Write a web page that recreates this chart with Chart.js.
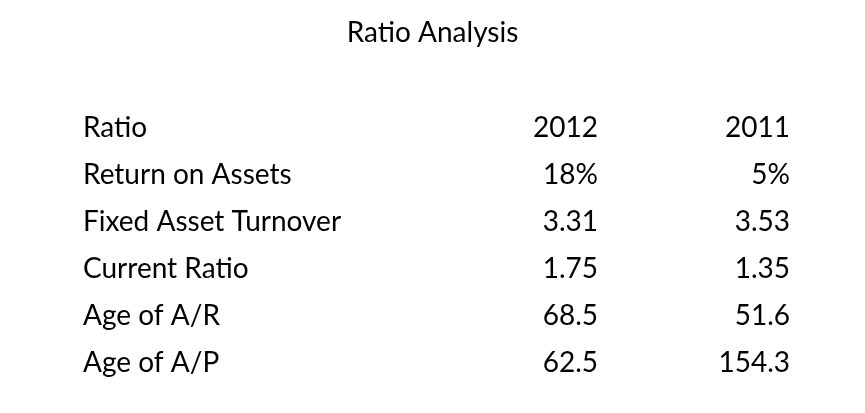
<!DOCTYPE html>
<html><head><meta charset="utf-8">
<script src="https://cdn.jsdelivr.net/npm/chart.js@4"></script>
<style>html,body{margin:0;padding:0;background:#fff}#w{width:865px;height:413px}</style>
</head><body><div id="w"><canvas id="c"></canvas></div>
<script>
const headers = ['Ratio', '2012', '2011'];
const ratios = ['Return on Assets', 'Fixed Asset Turnover', 'Current Ratio', 'Age of A/R', 'Age of A/P'];
const values2012 = ['18%', '3.31', '1.75', '68.5', '62.5'];
const values2011 = ['5%', '3.53', '1.35', '51.6', '154.3'];

const colX = [83, 598, 790];
const colAlign = ['left', 'right', 'right'];
const rows = [headers].concat(ratios.map((r, i) => [r, values2012[i], values2011[i]]));

const points = [];
rows.forEach((row, ri) => row.forEach((t, ci) => points.push({x: colX[ci], y: ri, t, a: colAlign[ci]})));

const textPlugin = {
  id: 'cellText',
  afterDatasetsDraw(chart) {
    const ctx = chart.ctx, xs = chart.scales.x, ys = chart.scales.y;
    ctx.save();
    ctx.fillStyle = '#000';
    ctx.font = '28px Lato';
    ctx.textBaseline = 'middle';
    chart.data.datasets[0].data.forEach(p => {
      ctx.textAlign = p.a;
      ctx.fillText(p.t, xs.getPixelForValue(p.x), ys.getPixelForValue(p.y));
    });
    ctx.restore();
  }
};

new Chart(document.getElementById('c'), {
  type: 'scatter',
  data: {datasets: [{data: points, pointRadius: 0, pointHoverRadius: 0}]},
  options: {
    responsive: true, maintainAspectRatio: false, animation: false,
    layout: {padding: {left: 0, right: 0, top: 0, bottom: 26.5}},
    plugins: {
      legend: {display: false}, tooltip: {enabled: false},
      title: {display: true, text: 'Ratio Analysis', color: '#000',
        font: {family: 'Lato', size: 28, weight: 'normal', lineHeight: 1.2},
        padding: {top: 16, bottom: 55}}
    },
    scales: {
      x: {type: 'linear', min: 0, max: 865, display: false},
      y: {type: 'linear', min: -0.5, max: 5.5, reverse: true, display: false}
    }
  },
  plugins: [textPlugin]
});
</script></body></html>
